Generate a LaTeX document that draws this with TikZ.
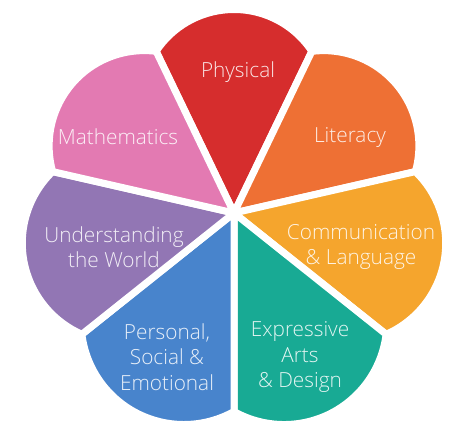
\documentclass[tikz,border=0pt]{standalone}
\usepackage{fontspec}
\setmainfont{Open Sans}[UprightFont=* Light]
\usetikzlibrary{positioning}

\definecolor{physred}{RGB}{214,45,45}
\definecolor{litorange}{RGB}{238,112,52}
\definecolor{commyellow}{RGB}{245,165,45}
\definecolor{exprteal}{RGB}{24,170,148}
\definecolor{pseblue}{RGB}{72,132,204}
\definecolor{utwpurple}{RGB}{146,118,180}
\definecolor{mathpink}{RGB}{227,122,178}

\begin{document}
\begin{tikzpicture}[petal/.style={draw=white,line width=7pt,line join=round},
                    area/.style={text=white,text opacity=0.88,align=center,inner sep=0pt,
                                 font=\fontsize{20.8}{25.5}\selectfont}]

\useasboundingbox (-234pt,-197pt) rectangle (218pt,223pt);

% petals: sides meet at (0,10pt), outer corners on a circle of 188.5pt round (0,0)
\foreach \a/\c in {90/physred,38.571/litorange,-12.857/commyellow,-64.286/exprteal,
                   -115.714/pseblue,-167.143/utwpurple,141.429/mathpink}{
  \pgfmathsetmacro\pa{\a-25.714}
  \pgfmathsetmacro\pb{\a+25.714}
  \pgfmathsetmacro\ta{10*(-sin(\pa)+sqrt(354.32+sin(\pa)^2))}
  \pgfmathsetmacro\tb{10*(-sin(\pb)+sqrt(354.32+sin(\pb)^2))}
  \pgfmathsetmacro\aa{\pa+atan2(10*cos(\pa),\ta+10*sin(\pa))}
  \pgfmathsetmacro\ab{\pb+atan2(10*cos(\pb),\tb+10*sin(\pb))}
  \pgfmathsetmacro\hw{(\ab-\aa)/2}
  \pgfmathsetmacro\mid{(\ab+\aa)/2}
  \pgfmathsetmacro\cy{188.5*sin(\hw)}
  \pgfmathsetmacro\cx{188.5*cos(\hw)}
  \pgfmathsetmacro\sg{213.5-\cx}
  \pgfmathsetmacro\rr{(\cy*\cy+\sg*\sg)/(2*\sg)}
  \pgfmathsetmacro\ao{atan2(-\cy,\cx-213.5+\rr)}
  \filldraw[petal,fill=\c] (0,10pt) -- (\aa:188.5pt)
    arc[start angle=\mid+\ao,end angle=\mid-\ao,radius=\rr pt] -- cycle;
}

\node[area] (phys) at (4pt,151pt) {Physical};
\node[area] (lit) at (116pt,86pt) {Literacy};
\node[area] (comm) at (127pt,-24pt) {Communication\\\& Language};
\node[area] (expr) at (66pt,-134pt) {Expressive\\Arts\\\& Design};
\node[area] (pse) at (-67pt,-134pt) {Personal,\\Social \&\\Emotional};
\node[area] (utw) at (-120pt,-24pt) {Understanding\\the World};
\node[area] (math) at (-116pt,86pt) {Mathematics};

\end{tikzpicture}
\end{document}
